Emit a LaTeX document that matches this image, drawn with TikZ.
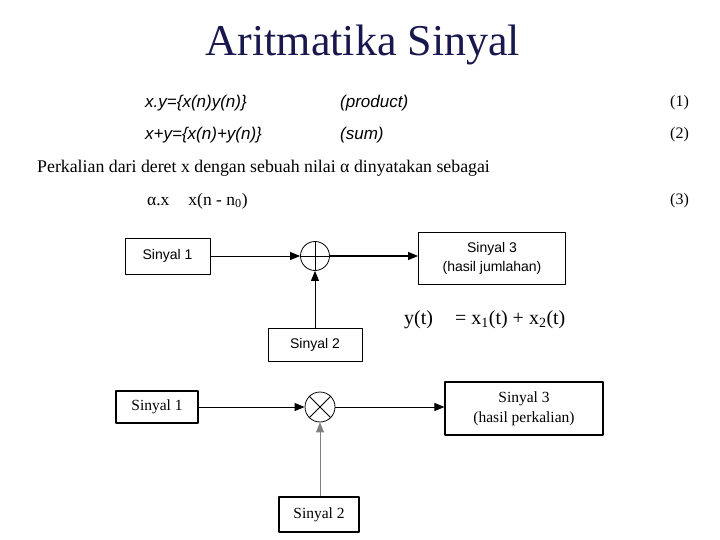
\documentclass[tikz,border=0pt]{standalone}
\usepackage{fontspec}
\setmainfont{Liberation Serif}
\setsansfont{Liberation Sans}
\usetikzlibrary{arrows.meta,positioning}
\definecolor{judul}{RGB}{24,24,78}

\begin{document}
\begin{tikzpicture}[x=1pt,y=-1pt,>={Triangle[length=10pt,width=8pt]},line join=round,
  kotak/.style={draw,inner sep=0pt,align=center},
  kotaka/.style={kotak,line width=0.9pt,font=\sffamily\fontsize{14}{19}\selectfont},
  kotakb/.style={kotak,line width=1.2pt,font=\fontsize{15.5}{20}\selectfont},
  bulat/.style={draw,circle,inner sep=0pt,minimum size=29pt},
  teks/.style={inner sep=0pt,anchor=west},
  rumus/.style={teks,font=\sffamily\itshape\fontsize{17}{19}\selectfont},
  nomor/.style={teks,font=\fontsize{16}{18}\selectfont}]
  \useasboundingbox (0,0) rectangle (720,540);

  % judul dan persamaan
  \node[font=\fontsize{44}{48}\selectfont,text=judul] (judul) at (363,45) {Aritmatika Sinyal};
  \node[rumus] (eq1) at (145,103) {x.y=\{x(n)y(n)\}};
  \node[rumus] (ket1) at (340,103) {(product)};
  \node[nomor] (no1) at (670,103) {(1)};
  \node[rumus] (eq2) at (145,135) {x+y=\{x(n)+y(n)\}};
  \node[rumus] (ket2) at (340,135) {(sum)};
  \node[nomor] (no2) at (670,135) {(2)};
  \node[teks,font=\fontsize{17.8}{20}\selectfont] (kalimat) at (37,168) {Perkalian dari deret x dengan sebuah nilai α dinyatakan sebagai};
  \node[teks,font=\fontsize{17.5}{20}\selectfont] (eq3) at (147,201) {α.x\hspace{19pt}x(n - n\textsubscript{0})};
  \node[nomor] (no3) at (670,201) {(3)};

  % penjumlahan
  \node[kotaka,minimum width=85pt,minimum height=36pt] (s1a) at (167.5,256) {Sinyal 1};
  \node[bulat,line width=0.8pt] (jml) at (315,256) {};
  \node[kotaka,minimum width=147pt,minimum height=52pt] (s3a) at (492,258) {Sinyal 3\\(hasil jumlahan)};
  \node[kotaka,minimum width=94pt,minimum height=33pt] (s2a) at (315,344.5) {Sinyal 2};
  \draw[line width=0.8pt] (jml.north) -- (jml.south);
  \draw[line width=0.8pt] (jml.west) -- (jml.east);
  \draw[->,line width=0.8pt] (s1a.east) -- (jml.west);
  \draw[->,line width=1.4pt] (jml.east) -- (jml.east -| s3a.west);
  \draw[->,line width=0.8pt] (s2a.north) -- (jml.south);
  \node[teks,font=\fontsize{20}{22}\selectfont] (yt) at (404,320) {y(t)\hspace{22pt}= x\textsubscript{1}(t) + x\textsubscript{2}(t)};

  % perkalian
  \node[kotakb,minimum width=82pt,minimum height=32pt] (s1b) at (157,407) {Sinyal 1};
  \node[bulat,line width=0.8pt,minimum size=30pt] (kali) at (320,407) {};
  \node[kotakb,minimum width=158pt,minimum height=53pt] (s3b) at (524,408.5) {Sinyal 3\\(hasil perkalian)};
  \node[kotakb,minimum width=80pt,minimum height=35pt] (s2b) at (319,514.5) {Sinyal 2};
  \draw[line width=0.8pt] (kali.north west) -- (kali.south east);
  \draw[line width=0.8pt] (kali.north east) -- (kali.south west);
  \draw[->,line width=0.9pt] (s1b.east) -- (kali.west);
  \draw[->,line width=0.9pt] (kali.east) -- (kali.east -| s3b.west);
  \draw[->,gray,line width=1pt] (kali.south |- s2b.north) -- (kali.south);
\end{tikzpicture}
\end{document}
